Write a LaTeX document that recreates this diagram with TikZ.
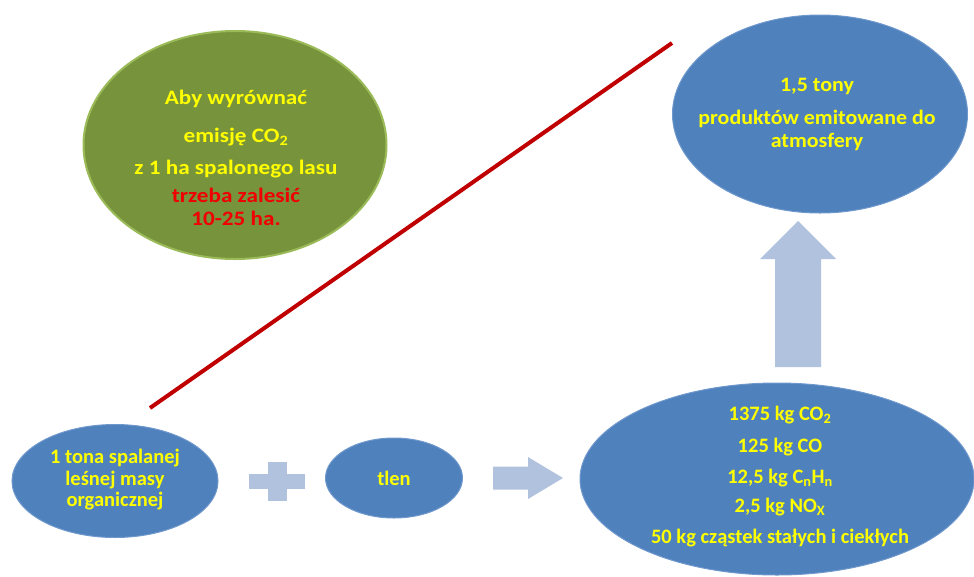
\documentclass[tikz,border=0pt]{standalone}
\usepackage{fontspec}
\setmainfont{Carlito}
\newfontfamily\greenwide{Carlito}[FakeStretch=1.13]
\newfontfamily\bluewide{Carlito}[FakeStretch=1.07]
\usetikzlibrary{shapes, positioning, calc}

\definecolor{blobblue}{HTML}{4F81BD}
\definecolor{blobblueedge}{HTML}{6F98CC}
\definecolor{blobgreen}{HTML}{77933C}
\definecolor{blobgreenedge}{HTML}{9BBB59}
\definecolor{shapegrey}{HTML}{B0C2DE}
\definecolor{txtyellow}{HTML}{FFFF00}
\definecolor{txtred}{HTML}{F00000}
\definecolor{linered}{HTML}{C00000}

\begin{document}
\begin{tikzpicture}[x=1pt, y=-1pt]
  \newcommand\blobfont{\bfseries\fontsize{20.5}{23}\selectfont}
  \newcommand\blobedge{1pt}

  \useasboundingbox (0,0) rectangle (974,576);

  % ellipses
  \node[ellipse, fill=blobgreen, draw=blobgreenedge, line width=2pt, minimum width=303pt, minimum height=228pt] at (235,145) (offset) {};
  \node[ellipse, fill=blobblue, draw=blobblueedge, line width=\blobedge, minimum width=295pt, minimum height=198pt] at (820,114) (emitted) {};
  \node[ellipse, fill=blobblue, draw=blobblueedge, line width=\blobedge, minimum width=206pt, minimum height=113pt] at (115,481) (biomass) {};
  \node[ellipse, fill=blobblue, draw=blobblueedge, line width=\blobedge, minimum width=137pt, minimum height=80pt] at (394,478) (oxygen) {};
  \node[ellipse, fill=blobblue, draw=blobblueedge, line width=\blobedge, minimum width=394pt, minimum height=192pt] at (777,479) (products) {};

  % texts, green
  \node[font=\greenwide\blobfont, text=txtyellow] at (236,99) (offset-1) {Aby wyrównać};
  \node[font=\greenwide\blobfont, text=txtyellow] at (236,137) (offset-2) {emisję CO\textsubscript{2}};
  \node[font=\greenwide\blobfont, text=txtyellow] at (236,169) (offset-3) {z 1 ha spalonego lasu};
  \node[font=\greenwide\blobfont, text=txtred] at (236,195) (offset-4) {trzeba zalesić};
  \node[font=\greenwide\blobfont, text=txtred] at (236,218) (offset-5) {10-25 ha.};

  % texts, blue
  \node[font=\bluewide\blobfont, text=txtyellow] at (817,86) (emitted-1) {1,5 tony};
  \node[font=\bluewide\blobfont, text=txtyellow] at (817,119) (emitted-2) {produktów emitowane do};
  \node[font=\bluewide\blobfont, text=txtyellow] at (817,142) (emitted-3) {atmosfery};

  \node[font=\blobfont, text=txtyellow] at (115,458) (biomass-1) {1 tona spalanej};
  \node[font=\blobfont, text=txtyellow] at (115,480) (biomass-2) {leśnej masy};
  \node[font=\blobfont, text=txtyellow] at (115,501) (biomass-3) {organicznej};

  \node[font=\blobfont, text=txtyellow] at (oxygen) (oxygen-1) {tlen};

  \foreach \ypos/\txt [count=\i] in {415/{1375 kg CO\textsubscript{2}}, 447/{125 kg CO}, 478/{12,5 kg C\textsubscript{n}H\textsubscript{n}}, 507/{2,5 kg NO\textsubscript{X}}, 538/{50 kg cząstek stałych i ciekłych}}{
    \node[font=\blobfont, text=txtyellow] at (780,\ypos) (products-\i) {\txt};
  }

  % plus and block arrows
  \coordinate (plus) at (277,481);
  \fill[shapegrey] ($(plus)+(-28,-7.5)$) rectangle ($(plus)+(28,7.5)$);
  \fill[shapegrey] ($(plus)+(-9.5,-19.5)$) rectangle ($(plus)+(9.5,19.5)$);

  \coordinate (rarrow) at (493,478);
  \fill[shapegrey] (rarrow) ++(0,-11.5) -- ++(35,0) -- ++(0,-9.5) -- ++(35,21) -- ++(-35,21) -- ++(0,-9.5) -- ++(-35,0) -- cycle;

  \coordinate (uarrow) at (798,367);
  \fill[shapegrey] (uarrow) ++(-23,0) -- ++(0,-108) -- ++(-15,0) -- ++(38,-38) -- ++(38,38) -- ++(-15,0) -- ++(0,108) -- cycle;

  % crossing line
  \coordinate (cross-a) at (150,408);
  \coordinate (cross-b) at (672,43);
  \draw[linered, line width=4pt] (cross-a) -- (cross-b);
\end{tikzpicture}
\end{document}
